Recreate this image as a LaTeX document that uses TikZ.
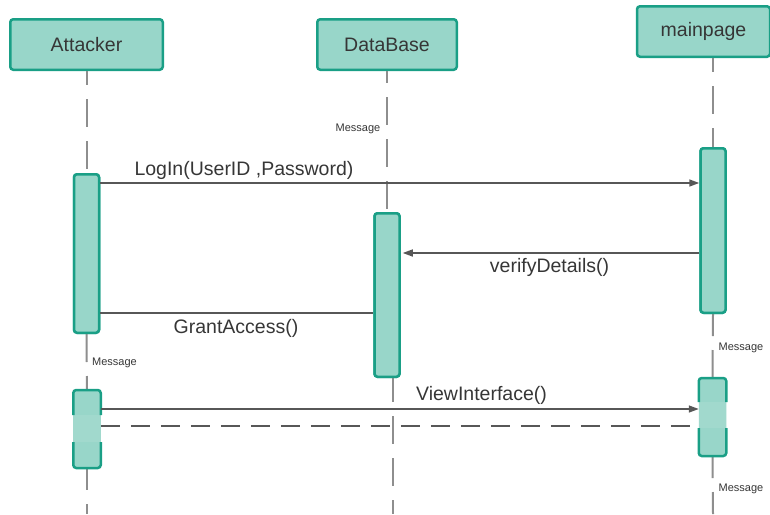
\documentclass[tikz,border=0pt]{standalone}
\usepackage{fontspec}
\setmainfont{Liberation Sans}
\usetikzlibrary{arrows.meta}
\definecolor{barfill}{HTML}{98D6C9}
\definecolor{barline}{HTML}{1A9F86}
\definecolor{gapfill}{HTML}{A1D9CD}
\definecolor{msgline}{HTML}{575757}
\definecolor{lifecol}{HTML}{8E8E8E}
\definecolor{txt}{HTML}{363636}
\begin{document}
\begin{tikzpicture}[x=1pt,y=-1pt,
  actor/.style={draw=barline, fill=barfill, line width=2.5pt, rounded corners=3pt,
    text=txt, font=\fontsize{19.5}{22}\selectfont, inner sep=0pt},
  bar/.style={draw=barline, fill=barfill, line width=2.5pt, rounded corners=3pt,
    minimum width=25pt, inner sep=0pt},
  barborder/.style={draw=barline, line width=2.5pt, rounded corners=3pt},
  life/.style={draw=lifecol, line width=2pt, dash pattern=on 28pt off 14pt},
  msg/.style={draw=msgline, line width=1.5pt},
  callarrow/.style={msg, -{Triangle[length=10pt,width=7pt]}},
  replyline/.style={msg, dash pattern=on 19pt off 11pt},
  lbl/.style={text=txt, font=\fontsize{19.5}{22}\selectfont, anchor=base, inner sep=0pt},
  note/.style={text=txt, font=\fontsize{11}{13}\selectfont, anchor=base, inner sep=0pt}]
\useasboundingbox (0,0) rectangle (770,514);

% participants
\node[actor, minimum width=152.5pt, minimum height=50.5pt] (att) at (86.5,44.5) {Attacker};
\node[actor, minimum width=139.5pt, minimum height=50.5pt] (dbs) at (387,44.5) {DataBase};
\node[actor, minimum width=133pt, minimum height=50.5pt] (mpg) at (703.5,31.5) {mainpage};

% activation bars (positions only; drawn after the lifelines)
\path
  (86.5,253.5) node[bar, minimum height=158.5pt] (ab1) {}
  (387,295)    node[bar, minimum height=163.5pt] (db1) {}
  (713,230.5)  node[bar, minimum height=164.5pt] (mb1) {}
  (87,429)     node[bar, draw=none, fill=none, minimum height=75.5pt] (ab2) {}
  (712.5,417)  node[bar, draw=none, fill=none, minimum height=75.5pt] (mb2) {};

% lifeline ends
\coordinate (attend) at (87,514);
\coordinate (dbend) at (393,514);
\coordinate (mpgend) at (713,514);

% lifelines
\draw[life, dash phase=14pt] (att.south -| ab1) -- (ab1.north);
\draw[life] (ab1.south) -- (ab2.north);
\draw[life, dash phase=6pt] (ab2.south) -- (attend);
\draw[life, dash phase=16pt] (dbs.south) -- (db1.north);
\draw[life, dash phase=4pt] (dbend |- db1.south) -- (dbend);
\draw[life, dash phase=14pt] (mpg.south -| mb1) -- (mb1.north);
\draw[life, dash phase=6pt] (mb1.south) -- (mb2.north);
\draw[life, dash phase=6pt] (mb2.south) -- (mpgend);

% bars
\node[bar, minimum height=158.5pt] at (ab1) {};
\node[bar, minimum height=163.5pt] at (db1) {};
\node[bar, minimum height=164.5pt] at (mb1) {};

% lower bars: border broken where the return line passes
\fill[barfill, rounded corners=3pt] (ab2.south west) rectangle (ab2.north east);
\fill[gapfill] (ab2.west |- 0,415) rectangle (ab2.east |- 0,442);
\draw[barborder] (ab2.west |- 0,415) -- (ab2.north west) -- (ab2.north east) -- (ab2.east |- 0,415);
\draw[barborder] (ab2.west |- 0,442) -- (ab2.south west) -- (ab2.south east) -- (ab2.east |- 0,442);

\fill[barfill, rounded corners=3pt] (mb2.south west) rectangle (mb2.north east);
\fill[gapfill] (mb2.west |- 0,402) rectangle (mb2.east |- 0,428);
\draw[barborder] (mb2.west |- 0,402) -- (mb2.north west) -- (mb2.north east) -- (mb2.east |- 0,402);
\draw[barborder] (mb2.west |- 0,428) -- (mb2.south west) -- (mb2.south east) -- (mb2.east |- 0,428);

% messages
\draw[callarrow] (ab1.east |- 0,183) -- (mb1.west |- 0,183);
\draw[callarrow, shorten >=2pt] (mb1.west |- 0,253) -- (db1.east |- 0,253);
\draw[msg] (ab1.east |- 0,313) -- (db1.west |- 0,313);
\draw[callarrow] (ab2.east |- 0,409) -- (mb2.west |- 0,409);
\draw[replyline] (ab2.east |- 0,426) -- (mb2.west |- 0,426);

% message labels
\node[lbl] (tLogin) at (244,175) {LogIn(UserID ,Password)};
\node[lbl] (tVerify) at (549.5,272) {verifyDetails()};
\node[lbl] (tGrant) at (236,333) {GrantAccess()};
\node[lbl] (tView) at (481.5,400) {ViewInterface()};

% small notes on the lifelines
\node[note] (n1) at (358,131) {Message};
\node[note] (n2) at (114.5,365) {Message};
\node[note] (n3) at (741,350) {Message};
\node[note] (n4) at (741,491) {Message};
\end{tikzpicture}
\end{document}
